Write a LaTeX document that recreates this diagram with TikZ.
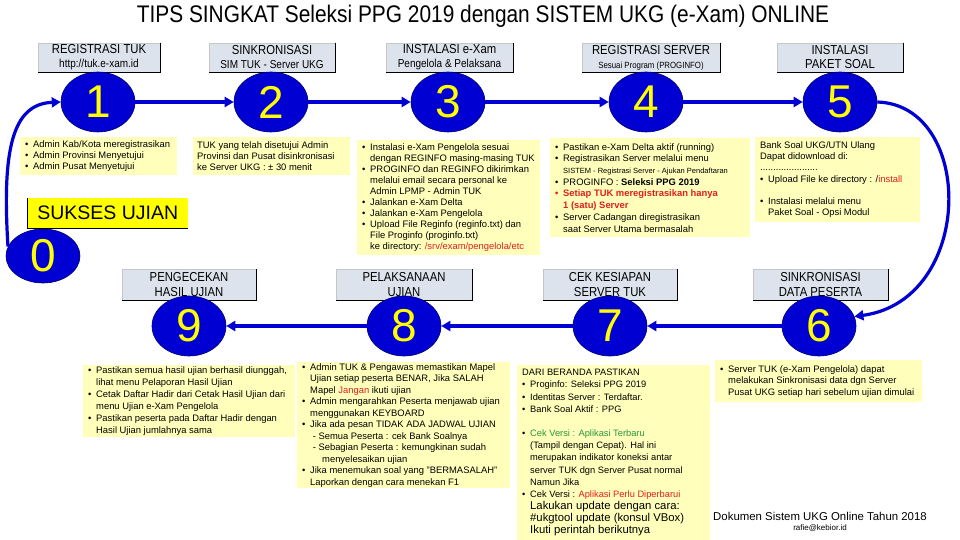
\documentclass[tikz,border=0pt]{standalone}
\usepackage{fontspec}
\setmainfont{Liberation Sans}
\newfontfamily\condf[FakeStretch=0.87]{Liberation Sans}
\usetikzlibrary{shapes.geometric,arrows.meta,calc}
\definecolor{cblue}{RGB}{0,0,210}
\definecolor{cedge}{RGB}{0,0,110}
\definecolor{hfill}{RGB}{221,227,237}
\definecolor{yfill}{RGB}{255,255,187}
\definecolor{sy}{RGB}{255,255,0}
\definecolor{tred}{RGB}{225,30,30}
\definecolor{tgreen}{RGB}{40,150,60}
\newcommand\bl{\makebox[8pt][l]{•}}
\newcommand\ind{\hspace*{8pt}}
\tikzset{
  numc/.style={ellipse, fill=cblue, draw=cedge, line width=0.6pt, minimum width=74pt, minimum height=60pt, inner sep=0pt, text=sy, font=\fontsize{46}{46}\selectfont},
  hdr/.style={fill=hfill, draw=gray!45, line width=0.5pt, align=center, inner sep=0pt, font=\condf\fontsize{13}{15}\selectfont},
  ybox/.style={fill=yfill, anchor=north west, inner sep=0pt},
  btext/.style={anchor=west, align=left, inner sep=0pt, font=\fontsize{9.4}{11}\selectfont},
  flow/.style={draw=cblue, line width=3.2pt, -{Triangle[length=9pt,width=10pt]}},
  shadowline/.style={draw=black, line width=0.8pt},
}
\begin{document}
\begin{tikzpicture}[x=1pt,y=-1pt]
\useasboundingbox[fill=white] (0,0) rectangle (960,540);

% title
\node[font=\condf\fontsize{24}{26}\selectfont] (title) at (483,16) {TIPS SINGKAT Seleksi PPG 2019 dengan SISTEM UKG (e-Xam) ONLINE};

% header boxes row 1
\node[hdr, minimum width=122pt, minimum height=29pt] (h1) at (99,57.5) {REGISTRASI TUK\\[-1pt]{\fontsize{11.5}{12}\selectfont http://tuk.e-xam.id}};
\node[hdr, minimum width=126pt, minimum height=29pt] (h2) at (272,57.5) {SINKRONISASI\\[-1pt]{\fontsize{11.5}{12}\selectfont SIM TUK - Server UKG}};
\node[hdr, minimum width=127pt, minimum height=29pt] (h3) at (449.5,57.5) {INSTALASI e-Xam\\[-1pt]{\fontsize{11.5}{12}\selectfont Pengelola \& Pelaksana}};
\node[hdr, minimum width=138pt, minimum height=29pt] (h4) at (651,57.5) {REGISTRASI SERVER\\[-1pt]{\fontsize{9}{10}\selectfont Sesuai Program (PROGINFO)}};
\node[hdr, minimum width=126pt, minimum height=29pt] (h5) at (840,57.5) {INSTALASI\\[-1pt]PAKET SOAL};
% header boxes row 2
\node[hdr, minimum width=134pt, minimum height=31pt] (h9) at (189,285) {PENGECEKAN\\HASIL UJIAN};
\node[hdr, minimum width=136pt, minimum height=31pt] (h8) at (404,285) {PELAKSANAAN\\UJIAN};
\node[hdr, minimum width=134pt, minimum height=31pt] (h7) at (610,285) {CEK KESIAPAN\\SERVER TUK};
\node[hdr, minimum width=135pt, minimum height=31pt] (h6) at (820.5,285) {SINKRONISASI\\DATA PESERTA};
\foreach \h in {h1,h2,h3,h4,h5,h9,h8,h7,h6}{
  \draw[shadowline] (\h.north east) -- (\h.south east) -- (\h.south west);
}

% yellow text boxes
\node[ybox, minimum width=157pt, minimum height=38pt] (bA) at (20,137) {};
\node[btext] (tA) at ($(bA.west)+(5,0)$) {\bl Admin Kab/Kota meregistrasikan\\\bl Admin Provinsi Menyetujui\\\bl Admin Pusat Menyetujui};

\node[ybox, minimum width=157pt, minimum height=38pt] (bB) at (193,137) {};
\node[btext] (tB) at ($(bB.west)+(4,0)$) {TUK yang telah disetujui Admin\\Provinsi dan Pusat disinkronisasi\\ke Server UKG : ± 30 menit};

\node[ybox, minimum width=183pt, minimum height=115pt] (bC) at (357,140) {};
\node[btext] (tC) at ($(bC.west)+(5,0)$) {\bl Instalasi e-Xam Pengelola sesuai\\
\ind dengan REGINFO masing-masing TUK\\
\bl PROGINFO dan REGINFO dikirimkan\\
\ind melalui email secara personal ke\\
\ind Admin LPMP - Admin TUK\\
\bl Jalankan e-Xam Delta\\
\bl Jalankan e-Xam Pengelola\\
\bl Upload File Reginfo (reginfo.txt) dan\\
\ind File Proginfo (proginfo.txt)\\
\ind ke directory: {\color{tred}/srv/exam/pengelola/etc}};

\node[ybox, minimum width=200pt, minimum height=99pt] (bD) at (550,138) {};
\node[btext, font=\fontsize{9.4}{11.7}\selectfont] (tD) at ($(bD.west)+(5,0)$) {\bl Pastikan e-Xam Delta aktif (running)\\
\bl Registrasikan Server melalui menu\\
\ind{\fontsize{7.5}{11.7}\selectfont SISTEM - Registrasi Server - Ajukan Pendaftaran}\\
\bl PROGINFO : {\bfseries Seleksi PPG 2019}\\
{\color{tred}\bfseries\bl Setiap TUK meregistrasikan hanya}\\
{\color{tred}\bfseries\ind 1 (satu) Server}\\
\bl Server Cadangan diregistrasikan\\
\ind saat Server Utama bermasalah};

\node[ybox, minimum width=165pt, minimum height=85pt] (bE) at (755,137) {};
\node[btext, font=\fontsize{9.4}{11.2}\selectfont] (tE) at ($(bE.west)+(5,0)$) {Bank Soal UKG/UTN Ulang\\
Dapat didownload di:\\
......................\\
\bl Upload File ke directory : /{\color{tred}install}\\[11.2pt]
\bl Instalasi melalui menu\\
\ind Paket Soal - Opsi Modul};

\node[ybox, minimum width=212pt, minimum height=72pt] (bF) at (83,365) {};
\node[btext, font=\fontsize{9.4}{12}\selectfont] (tF) at ($(bF.west)+(5,0)$) {\bl Pastikan semua hasil ujian berhasil diunggah,\\
\ind lihat menu Pelaporan Hasil Ujian\\
\bl Cetak Daftar Hadir dari Cetak Hasil Ujian dari\\
\ind menu Ujian e-Xam Pengelola\\
\bl Pastikan peserta pada Daftar Hadir dengan\\
\ind Hasil Ujian jumlahnya sama};

\node[ybox, minimum width=213pt, minimum height=126pt] (bG) at (297,362) {};
\node[btext, font=\fontsize{9.4}{11.5}\selectfont] (tG) at ($(bG.west)+(5,0)$) {\bl Admin TUK \& Pengawas memastikan Mapel\\
\ind Ujian setiap peserta BENAR, Jika SALAH\\
\ind Mapel {\color{tred}Jangan} ikuti ujian\\
\bl Admin mengarahkan Peserta menjawab ujian\\
\ind menggunakan KEYBOARD\\
\bl Jika ada pesan TIDAK ADA JADWAL UJIAN\\
\ind\ - Semua Peserta : cek Bank Soalnya\\
\ind\ - Sebagian Peserta : kemungkinan sudah\\
\ind\hspace*{12pt}menyelesaikan ujian\\
\bl Jika menemukan soal yang "BERMASALAH"\\
\ind Laporkan dengan cara menekan F1};

\node[ybox, minimum width=193pt, minimum height=175pt] (bH) at (517,365) {};
\node[btext, font=\fontsize{9.3}{12.15}\selectfont] (tH) at ($(bH.west)+(5,0)$) {DARI BERANDA PASTIKAN\\
\bl Proginfo: Seleksi PPG 2019\\
\bl Identitas Server : Terdaftar.\\
\bl Bank Soal Aktif : PPG\\[12.15pt]
\bl {\color{tgreen}Cek Versi : Aplikasi Terbaru}\\
\ind (Tampil dengan Cepat). Hal ini\\
\ind merupakan indikator koneksi antar\\
\ind server TUK dgn Server Pusat normal\\
\ind Namun Jika\\
\bl Cek Versi : {\color{tred}Aplikasi Perlu Diperbarui}\\
\ind{\fontsize{11.3}{12.15}\selectfont Lakukan update dengan cara:}\\
\ind{\fontsize{11.3}{12.15}\selectfont \#ukgtool update (konsul VBox)}\\
\ind{\fontsize{11.3}{12.15}\selectfont Ikuti perintah berikutnya}};

\node[ybox, minimum width=207pt, minimum height=42pt] (bI) at (715,360) {};
\node[btext, font=\fontsize{9.4}{11.5}\selectfont] (tI) at ($(bI.west)+(5,0)$) {\bl Server TUK (e-Xam Pengelola) dapat\\
\ind melakukan Sinkronisasi data dgn Server\\
\ind Pusat UKG setiap hari sebelum ujian dimulai};

% sukses ujian
\node[fill=sy, minimum width=161pt, minimum height=30pt, anchor=north west, inner sep=0pt] (suk) at (27,198) {};
\draw[shadowline] (suk.north west) -- (suk.south west) -- (suk.south east);
\node[font=\fontsize{19.5}{20}\selectfont] (sukt) at (suk.center) {SUKSES UJIAN};

% circles
\node[numc] (c1) at (98,102) {1};
\node[numc] (c2) at (271,102) {2};
\node[numc] (c3) at (448,102) {3};
\node[numc] (c4) at (646,102) {4};
\node[numc] (c5) at (840,102) {5};
\node[numc] (c9) at (189,326) {9};
\node[numc] (c8) at (404,326) {8};
\node[numc] (c7) at (610,326) {7};
\node[numc] (c6) at (819,326) {6};
\node[numc, minimum width=74pt, minimum height=54pt] (c0) at (43,256) {0};

% connectors
\draw[flow] (c1) -- (c2);
\draw[flow] (c2) -- (c3);
\draw[flow] (c3) -- (c4);
\draw[flow] (c4) -- (c5);
\draw[flow] (c5.east) .. controls (975,105) and (975,300) .. (c6.15);
\draw[flow] (c6) -- (c7);
\draw[flow] (c7) -- (c8);
\draw[flow] (c8) -- (c9);
\draw[flow] (c0.165) .. controls (2,150) and (12,104) .. (c1.west);

% footer
\node[font=\fontsize{11.4}{12}\selectfont] (foot) at (820,516) {Dokumen Sistem UKG Online Tahun 2018};
\node[font=\fontsize{8}{9}\selectfont] (mail) at (820,528) {rafie@kebior.id};
\end{tikzpicture}
\end{document}
